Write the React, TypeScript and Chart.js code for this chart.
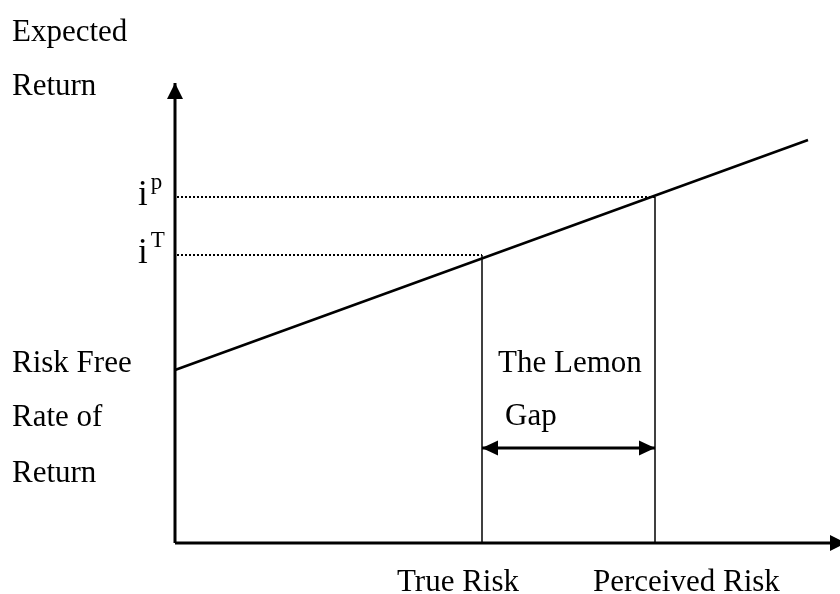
import React, { useEffect, useRef } from "react";
import { Chart, registerables } from "chart.js";

Chart.register(...registerables);

// ---- data (risk on x, expected return on y) ----
const riskCategories = ["True Risk", "Perceived Risk"];
const riskValues = [3.07, 4.8];
const returnSuperscripts = ["T", "p"];
const returnValues = [2.88, 3.46];
const riskFreeRate = 1.73;
const marketLineX = [0, 6.33];
const marketLineY = [1.73, 4.03];
const axisEnds = [6.71, 4.6]; // x-axis tip, y-axis tip
const lemonGapLevel = 0.95;
const yAxisTitle = ["Expected", "Return"];
const riskFreeLabel = ["Risk Free", "Rate of", "Return"];
const gapLabel = ["The Lemon", "Gap"];

const FONT = '"Liberation Serif", "Times New Roman", serif';

function arrowHead(ctx: CanvasRenderingContext2D, tx: number, ty: number, dx: number, dy: number, len: number, hw: number) {
  const nx = -dy, ny = dx;
  ctx.beginPath();
  ctx.moveTo(tx, ty);
  ctx.lineTo(tx - dx * len + nx * hw, ty - dy * len + ny * hw);
  ctx.lineTo(tx - dx * len - nx * hw, ty - dy * len - ny * hw);
  ctx.closePath();
  ctx.fillStyle = "#000";
  ctx.fill();
}

const decorPlugin = {
  id: "decor",
  afterDraw(chart: any) {
    const ctx: CanvasRenderingContext2D = chart.ctx;
    const xs = chart.scales.x, ys = chart.scales.y;
    const px = (v: number) => xs.getPixelForValue(v);
    const py = (v: number) => ys.getPixelForValue(v);
    ctx.save();
    // axis arrows
    arrowHead(ctx, px(0), py(axisEnds[1]), 0, -1, 16, 8);
    arrowHead(ctx, px(axisEnds[0]), py(0), 1, 0, 16, 8);
    // lemon gap double arrow
    arrowHead(ctx, px(riskValues[0]), py(lemonGapLevel), -1, 0, 16, 7.5);
    arrowHead(ctx, px(riskValues[1]), py(lemonGapLevel), 1, 0, 16, 7.5);

    ctx.fillStyle = "#000";
    ctx.textBaseline = "alphabetic";
    ctx.textAlign = "left";
    ctx.font = `31px ${FONT}`;
    // y-axis title
    ctx.fillText(yAxisTitle[0], 12, 41);
    ctx.fillText(yAxisTitle[1], 12, 95);
    // risk free label
    const rfY = py(riskFreeRate);
    ctx.fillText(riskFreeLabel[0], 12, rfY + 2);
    ctx.fillText(riskFreeLabel[1], 12, rfY + 56);
    ctx.fillText(riskFreeLabel[2], 12, rfY + 112);
    // lemon gap label
    ctx.fillText(gapLabel[0], px(riskValues[0]) + 16, rfY + 2);
    ctx.fillText(gapLabel[1], px(riskValues[0]) + 23, rfY + 55);
    // x category labels
    ctx.fillText(riskCategories[0], px(riskValues[0]) - 85, 591);
    ctx.fillText(riskCategories[1], px(riskValues[1]) - 62, 591);
    // i^T, i^p
    for (let k = 0; k < returnValues.length; k++) {
      const yy = py(returnValues[k]);
      ctx.font = `35px ${FONT}`;
      ctx.fillText("i", 138, yy + 8);
      const w = ctx.measureText("i").width;
      ctx.font = `23px ${FONT}`;
      ctx.fillText(returnSuperscripts[k], 138 + w + 3, yy - 8);
    }
    ctx.restore();
  },
};

export default function App() {
  const ref = useRef<HTMLCanvasElement | null>(null);
  useEffect(() => {
    document.body.style.margin = "0";
    const canvas = ref.current;
    if (!canvas) return;
    const line = (data: { x: number; y: number }[], width: number, dash: number[] = []) => ({
      data,
      showLine: true,
      borderColor: "#000",
      backgroundColor: "#000",
      borderWidth: width,
      borderDash: dash,
      pointRadius: 0,
      pointHoverRadius: 0,
      fill: false,
      tension: 0,
      borderCapStyle: "butt" as const,
    });
    const chart = new Chart(canvas, {
      type: "scatter",
      data: {
        datasets: [
          line([{ x: 0, y: 0 }, { x: 0, y: axisEnds[1] }], 3),
          line([{ x: 0, y: 0 }, { x: axisEnds[0], y: 0 }], 3),
          line([{ x: marketLineX[0], y: marketLineY[0] }, { x: marketLineX[1], y: marketLineY[1] }], 2.5),
          line([{ x: 0.02, y: returnValues[0] }, { x: riskValues[0], y: returnValues[0] }], 2, [2, 2]),
          line([{ x: 0.02, y: returnValues[1] }, { x: riskValues[1], y: returnValues[1] }], 2, [2, 2]),
          line([{ x: riskValues[0], y: 0 }, { x: riskValues[0], y: returnValues[0] }], 1.5),
          line([{ x: riskValues[1], y: 0 }, { x: riskValues[1], y: returnValues[1] }], 1.5),
          line([{ x: riskValues[0], y: lemonGapLevel }, { x: riskValues[1], y: lemonGapLevel }], 3),
        ],
      },
      options: {
        animation: false,
        responsive: false,
        devicePixelRatio: 1,
        layout: { padding: 0 },
        plugins: { legend: { display: false }, tooltip: { enabled: false }, title: { display: false } },
        events: [],
        scales: {
          x: { type: "linear", display: false, min: -1.75, max: 6.65 },
          y: { type: "linear", display: false, min: -0.51, max: 5.43 },
        },
      },
      plugins: [decorPlugin],
    });
    return () => chart.destroy();
  }, []);
  return (
    <div style={{ width: 840, height: 594, background: "#fff" }}>
      <canvas ref={ref} width={840} height={594} style={{ display: "block" }} />
    </div>
  );
}
